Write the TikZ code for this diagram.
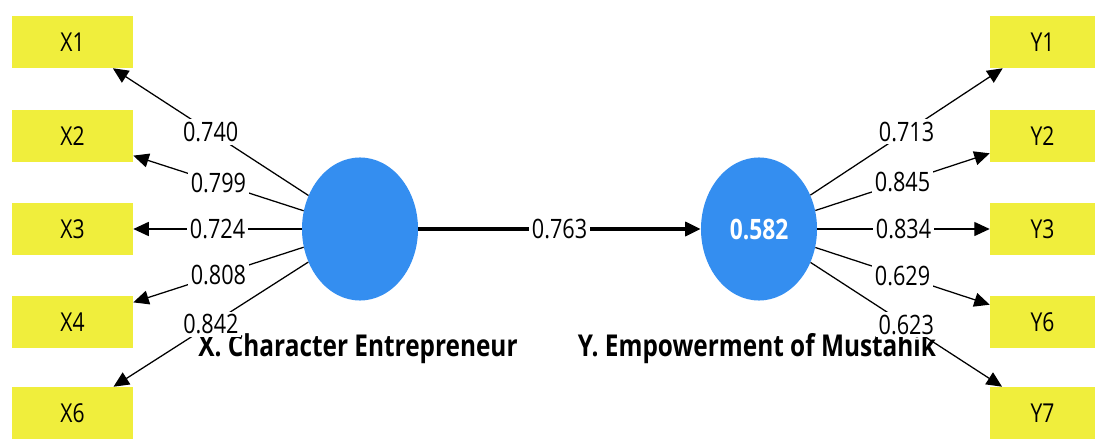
\documentclass[tikz,border=0pt]{standalone}
\usepackage{fontspec}
\setmainfont{Open Sans}[FakeStretch=0.81]
\usetikzlibrary{arrows.meta,shapes.geometric}
\definecolor{itemyellow}{RGB}{240,238,60}
\definecolor{latentblue}{RGB}{52,142,240}

\begin{document}
\begin{tikzpicture}[x=0.025cm, y=-0.025cm,
  >={Triangle[length=11pt,width=10pt]},
  item/.style={fill=itemyellow, minimum width=3.025cm, minimum height=1.3cm, inner sep=0pt, font=\fontsize{18.5}{20}\selectfont},
  ritem/.style={item, minimum width=2.625cm},
  latent/.style={ellipse, fill=latentblue, minimum width=2.9cm, minimum height=3.575cm, inner sep=0pt},
  load/.style={fill=white, inner sep=2pt, font=\fontsize{19}{21}\selectfont},
  cname/.style={font=\bfseries\fontsize{21.4}{24}\selectfont},
  loading/.style={->, line width=0.9pt}]
  \useasboundingbox (0,0) rectangle (1095,439);

  % indicators
  \node[item] (x1) at (72.5,42) {X1};
  \node[item] (x2) at (72.5,136) {X2};
  \node[item] (x3) at (72.5,229) {X3};
  \node[item] (x4) at (72.5,322) {X4};
  \node[item] (x6) at (72.5,413) {X6};
  \node[ritem] (y1) at (1042.5,42) {Y1};
  \node[ritem] (y2) at (1042.5,136) {Y2};
  \node[ritem] (y3) at (1042.5,229) {Y3};
  \node[ritem] (y6) at (1042.5,322) {Y6};
  \node[ritem] (y7) at (1042.5,413) {Y7};

  % constructs
  \node[latent] (X) at (360,229) {};
  \node[latent, text=white, font=\bfseries\fontsize{20}{22}\selectfont] (Y) at (759,229) {0.582};
  \node[cname] (Xname) at (358,349) {X. Character Entrepreneur};
  \node[cname] (Yname) at (757,349) {Y. Empowerment of Mustahik};

  % outer loadings
  \draw[loading] (X) -- (x1) node[load, midway] {0.740};
  \draw[loading] (X) -- (x2) node[load, midway] {0.799};
  \draw[loading] (X) -- (x3) node[load, midway] {0.724};
  \draw[loading] (X) -- (x4) node[load, midway] {0.808};
  \draw[loading] (X) -- (x6) node[load, midway] {0.842};
  \draw[loading] (Y) -- (y1) node[load, midway] {0.713};
  \draw[loading] (Y) -- (y2) node[load, midway] {0.845};
  \draw[loading] (Y) -- (y3) node[load, midway] {0.834};
  \draw[loading] (Y) -- (y6) node[load, midway] {0.629};
  \draw[loading] (Y) -- (y7) node[load, midway] {0.623};

  % path coefficient
  \draw[->, line width=2.2pt] (X) -- (Y) node[load, midway] {0.763};
\end{tikzpicture}
\end{document}
